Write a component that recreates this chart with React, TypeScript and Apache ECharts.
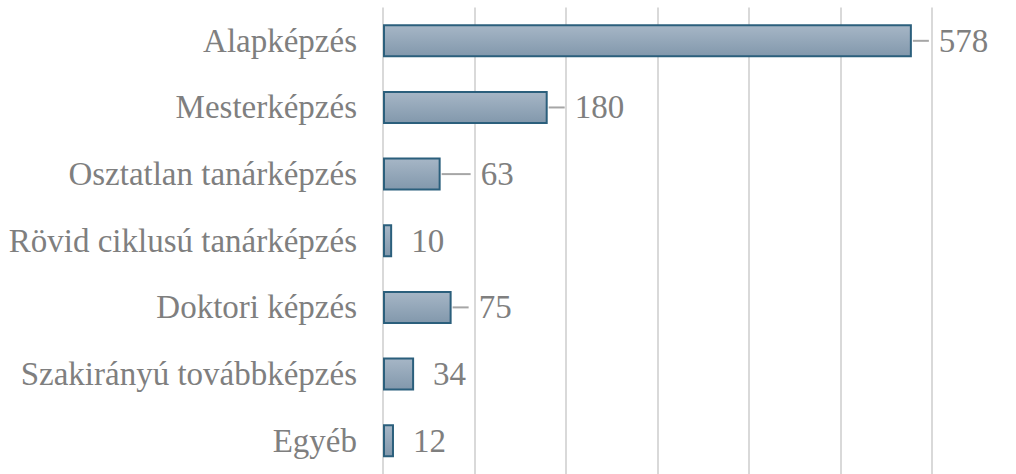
import React, { useEffect, useRef } from "react";
import * as echarts from "echarts";

const categories = [
  "Alapképzés",
  "Mesterképzés",
  "Osztatlan tanárképzés",
  "Rövid ciklusú tanárképzés",
  "Doktori képzés",
  "Szakirányú továbbképzés",
  "Egyéb",
];
const values = [578, 180, 63, 10, 75, 34, 12];
// extra horizontal shift (px) of labels that have a leader line in the original
const labelShift = [8, 8, 21, 0, 8, 0, 0];

export default function App() {
  const ref = useRef<HTMLDivElement>(null);
  useEffect(() => {
    if (!ref.current) return;
    const chart = echarts.init(ref.current, null, { renderer: "svg" });
    const textColor = "#7f7f7f";
    const font = "'Liberation Serif', 'Times New Roman', serif";
    const labelDistance = 9;
    chart.setOption({
      animation: false,
      grid: { left: 383, right: 84, top: 7.5, bottom: -3.6, containLabel: false },
      xAxis: {
        type: "value",
        min: 0,
        max: 600,
        interval: 100,
        axisLabel: { show: false },
        axisLine: { show: false },
        axisTick: { show: false },
        splitLine: { show: true, lineStyle: { color: "#d9d9d9", width: 2 } },
      },
      yAxis: {
        type: "category",
        data: categories,
        inverse: true,
        axisLine: { show: false },
        axisTick: { show: false },
        axisLabel: {
          color: textColor,
          fontFamily: font,
          fontSize: 33,
          margin: 26,
        },
      },
      series: [
        {
          type: "bar",
          barWidth: 33,
          data: values,
          itemStyle: {
            color: new echarts.graphic.LinearGradient(0, 0, 0, 1, [
              { offset: 0, color: "#a6b6c6" },
              { offset: 1, color: "#8298ac" },
            ]),
            borderColor: "#2b5f7c",
            borderWidth: 2,
          },
          label: {
            show: true,
            position: "right",
            distance: labelDistance + 10,
            color: textColor,
            fontFamily: font,
            fontSize: 33,
          },
          labelLayout: (params: any) => ({
            dx: labelShift[params.dataIndex],
          }),
        },
        {
          type: "custom",
          silent: true,
          z: 1,
          data: values.map((v, i) => [v, i, labelShift[i]]),
          renderItem: (params: any, api: any) => {
            const shift = api.value(2);
            if (!shift) return null;
            const p = api.coord([api.value(0), api.value(1)]);
            return {
              type: "line",
              shape: { x1: p[0] + 1, y1: p[1], x2: p[0] + labelDistance + shift, y2: p[1] },
              style: { stroke: "#a6a6a6", lineWidth: 2 },
            };
          },
        },
      ],
    });
    return () => chart.dispose();
  }, []);
  return (
    <div
      ref={ref}
      style={{ position: "fixed", left: 0, top: 0, width: 1016, height: 474, background: "#fff" }}
    />
  );
}
